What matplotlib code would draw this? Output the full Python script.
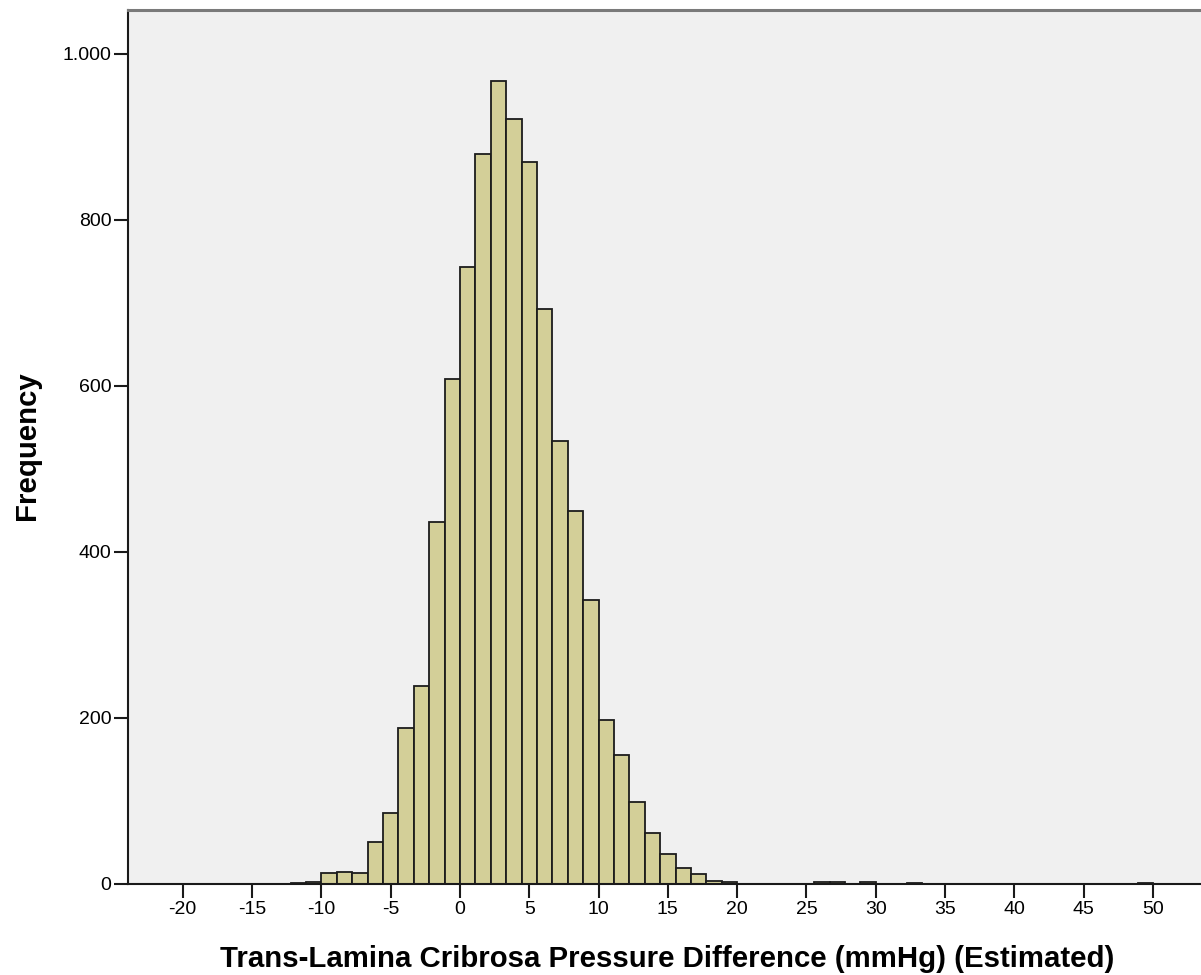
import numpy as np
import matplotlib.pyplot as plt
from matplotlib.ticker import FuncFormatter

plt.rcParams['axes.unicode_minus'] = False

# histogram bins: width 10/9, first bin starts at -110/9 (about -12.2)
bin_width = 10 / 9
first_edge = -11 * bin_width
counts = [1, 2, 13, 15, 13, 51, 85, 188, 239, 436, 608,
          743, 880, 967, 922, 870, 693, 534, 449, 342,
          198, 155, 99, 61, 36, 19, 12, 4, 2,
          0, 0, 0, 0, 0, 3, 2, 0, 2, 0, 0, 1,
          0, 0, 0, 0, 0, 0, 0, 0, 0, 0, 0, 0, 0, 0, 1]
xticks = [-20, -15, -10, -5, 0, 5, 10, 15, 20, 25, 30, 35, 40, 45, 50]
yticks = [0, 200, 400, 600, 800, 1000]

edges = first_edge + np.arange(len(counts) + 1) * bin_width
centers = (edges[:-1] + edges[1:]) / 2

fig = plt.figure(figsize=(12.01, 9.75), dpi=100)
# axes run past the right edge of the figure, like the cropped original
ax = fig.add_axes([128 / 1201, 1 - 884 / 975, (1212 - 128) / 1201, (884 - 10) / 975])
ax.set_facecolor('#f0f0f0')

ax.hist(centers, bins=edges, weights=counts, color='#d3cf98',
        edgecolor='#1c1c1c', linewidth=1.3)

ax.set_xlim(-23.95, (1212 - 460) / 13.86)
ax.set_ylim(0, 1053)

ax.set_xticks(xticks)
ax.set_yticks(yticks)
ax.yaxis.set_major_formatter(FuncFormatter(lambda v, p: f"{v:,.0f}".replace(',', '.')))
ax.tick_params(axis='both', direction='out', length=10, width=1.5, color='#1a1a1a',
               labelsize=14, pad=2)
for lab in ax.get_xticklabels() + ax.get_yticklabels():
    lab.set_fontfamily('Liberation Sans')

for side in ['left', 'bottom']:
    ax.spines[side].set_color('#1a1a1a')
    ax.spines[side].set_linewidth(1.5)
ax.spines['top'].set_color('#7a7a7a')
ax.spines['top'].set_linewidth(2.2)
ax.spines['right'].set_visible(False)

ax.set_xlabel('Trans-Lamina Cribrosa Pressure Difference (mmHg) (Estimated)',
              fontsize=21.2, fontweight='bold', family='Liberation Sans', va='top')
ax.xaxis.set_label_coords(667 / 1201, 1 - 945 / 975, transform=fig.transFigure)
ax.set_ylabel('Frequency', fontsize=21.2, fontweight='bold', family='Liberation Sans')
ax.yaxis.set_label_coords(41 / 1201, 1 - 446 / 975, transform=fig.transFigure)

plt.savefig('out.png', dpi=100)
